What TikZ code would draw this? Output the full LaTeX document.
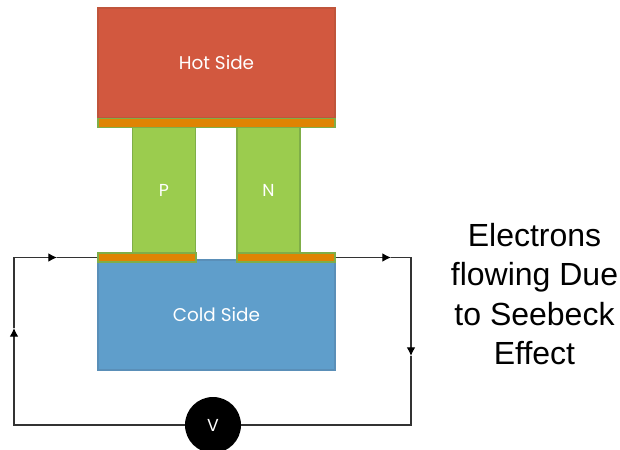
\documentclass[tikz,border=0pt]{standalone}
\usepackage{fontspec}
\setmainfont{Liberation Sans}
\newfontfamily\sidefont{Poppins}
\usetikzlibrary{arrows.meta}
\definecolor{hotred}{HTML}{D2583F}
\definecolor{hotedge}{HTML}{C0553B}
\definecolor{coldblue}{HTML}{5F9ECB}
\definecolor{coldedge}{HTML}{5A8FB8}
\definecolor{legreen}{HTML}{9BCC4E}
\definecolor{legedge}{HTML}{7FAE48}
\definecolor{striporange}{HTML}{DF8403}
\begin{document}
\begin{tikzpicture}[x=0.75pt,y=-0.75pt]

    \tikzset{
      sidebox/.style={
        draw,
        line width=1pt,
        inner sep=0pt,
        minimum width=177.75pt,
        minimum height=82.5pt,
        text=white,
        font=\sidefont\fontsize{13.8}{15}\selectfont,
      },
      legbox/.style={
        draw=legedge,
        fill=legreen,
        line width=1pt,
        inner sep=0pt,
        minimum width=47.25pt,
        minimum height=94.5pt,
        text=white,
        font=\sidefont\fontsize{13}{15}\selectfont,
      },
      stripbox/.style={
        draw=legedge,
        fill=striporange,
        line width=1pt,
        inner sep=0pt,
        minimum height=6.75pt,
      },
      wire/.style={
        line width=0.9pt,
        color=black!80,
      },
      wirehead/.style={
        wire,
        -{Latex[length=6.5pt,width=6.5pt,color=black]},
      },
    }
    \useasboundingbox (0,0) rectangle (620,449);

    \node[sidebox,draw=hotedge,fill=hotred] (hot) at (216.5,63) {Hot Side};
    \node[sidebox,draw=coldedge,fill=coldblue] (cold) at (216.5,315) {Cold Side};

    \node[legbox] (p) at (164,190.5) {P};
    \node[legbox] (n) at (268.5,190.5) {N};

    \node[stripbox,minimum width=177.75pt] (striphot) at (216.5,123) {};
    \node[stripbox,minimum width=73.5pt] (stripleft) at (147,257.5) {};
    \node[stripbox,minimum width=73.5pt] (stripright) at (286,257.5) {};

    \node[circle,fill=black,inner sep=0pt,minimum size=42pt,text=white,font=\sidefont\fontsize{13}{15}\selectfont] (volt) at (213,425) {V};

    \coordinate (topleft) at (14,257.5);
    \coordinate (botleft) at (14,425);
    \coordinate (topright) at (411,257.5);
    \coordinate (botright) at (411,425);
    \coordinate (headup) at (14,328);
    \coordinate (headin) at (57,257.5);
    \coordinate (headout) at (391,257.5);
    \coordinate (headdown) at (411,356);

    % circuit, going round from the voltmeter
    \draw[wirehead] (volt.west) -- (botleft) -- (headup);
    \draw[wirehead] (headup) -- (topleft) -- (headin);
    \draw[wire] (headin) -- (stripleft.west);
    \draw[wirehead] (stripright.east) -- (headout);
    \draw[wirehead] (headout) -- (topright) -- (headdown);
    \draw[wire] (headdown) -- (botright) -- (volt.east);

    \node[align=center,font=\fontsize{24}{29.6}\selectfont] (label) at (534.5,294) {Electrons\\flowing Due\\to Seebeck\\Effect};

\end{tikzpicture}
\end{document}
